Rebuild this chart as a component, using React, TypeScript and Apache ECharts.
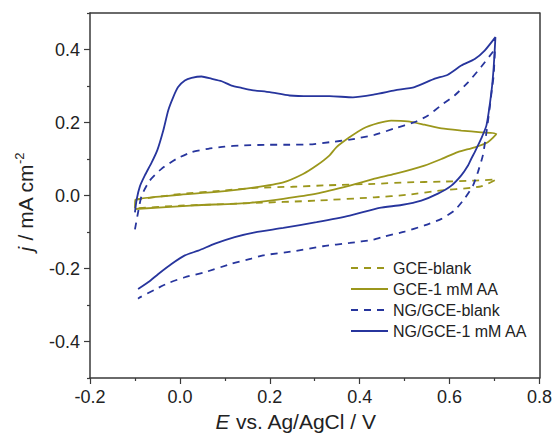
import React, { useEffect, useRef } from 'react';
import * as echarts from 'echarts';

const seriesNames = ['GCE-blank', 'GCE-1 mM AA', 'NG/GCE-blank', 'NG/GCE-1 mM AA'];
const yMajorTicks = [-0.4, -0.2, 0, 0.2, 0.4];
const yMinorTicks = [-0.5, -0.3, -0.1, 0.1, 0.3, 0.5];

// GCE-blank (dashed olive)
const gceBlankE = [-0.1, 0.0, 0.1, 0.167, 0.25, 0.33, 0.433, 0.507, 0.582, 0.656, 0.704,
  0.685, 0.67, 0.648, 0.582, 0.507, 0.433, 0.304, 0.156, 0.0, -0.1];
const gceBlankJ = [-0.012, 0.004, 0.014, 0.021, 0.024, 0.028, 0.032, 0.036, 0.038, 0.041, 0.044,
  0.032, 0.025, 0.021, 0.014, 0.002, -0.005, -0.014, -0.021, -0.028, -0.035];

// GCE-1 mM AA (solid olive)
const gceAaE = [-0.1, -0.099, 0.0, 0.1, 0.167, 0.23, 0.274, 0.304, 0.333, 0.348, 0.378, 0.407, 0.441,
  0.47, 0.507, 0.544, 0.582, 0.626, 0.67, 0.704,
  0.685, 0.656, 0.618, 0.582, 0.544, 0.478, 0.433, 0.378, 0.304, 0.23, 0.156, 0.033, -0.1];
const gceAaJ = [-0.035, -0.012, 0.002, 0.012, 0.022, 0.036, 0.059, 0.082, 0.11, 0.132, 0.16, 0.183, 0.198,
  0.205, 0.203, 0.194, 0.184, 0.178, 0.173, 0.169,
  0.146, 0.132, 0.119, 0.1, 0.082, 0.059, 0.046, 0.027, 0.005, -0.009, -0.02, -0.027, -0.037];

// NG/GCE-blank (dashed blue)
const ngBlankE = [-0.1, -0.093, -0.085, -0.067, -0.041, -0.008, 0.026, 0.063, 0.1, 0.137, 0.2, 0.244,
  0.289, 0.333, 0.378, 0.433, 0.478, 0.522, 0.552, 0.581, 0.611, 0.641, 0.67, 0.696, 0.701,
  0.698, 0.694, 0.689, 0.681, 0.674, 0.663, 0.652, 0.633, 0.611, 0.582, 0.544, 0.5, 0.456, 0.43,
  0.378, 0.318, 0.252, 0.185, 0.159, 0.115, 0.056, 0.011, -0.026, -0.056, -0.089, -0.093];
const ngBlankJ = [-0.093, -0.046, 0.0, 0.041, 0.073, 0.1, 0.119, 0.128, 0.134, 0.137, 0.139, 0.139,
  0.14, 0.146, 0.153, 0.166, 0.184, 0.201, 0.219, 0.247, 0.274, 0.31, 0.352, 0.393, 0.402,
  0.329, 0.29, 0.238, 0.164, 0.11, 0.064, 0.027, -0.009, -0.041, -0.064, -0.082, -0.099, -0.112, -0.121,
  -0.13, -0.139, -0.153, -0.164, -0.173, -0.187, -0.21, -0.224, -0.24, -0.258, -0.279, -0.283];

// NG/GCE-1 mM AA (solid blue)
const ngAaE = [-0.1, -0.096, -0.089, -0.078, -0.063, -0.05, -0.037, -0.026, -0.015, -0.004, 0.011, 0.026,
  0.048, 0.07, 0.093, 0.115, 0.137, 0.16, 0.2, 0.244, 0.289, 0.333, 0.385, 0.433, 0.478, 0.522,
  0.567, 0.596, 0.626, 0.656, 0.678, 0.702,
  0.698, 0.693, 0.682, 0.67, 0.656, 0.648, 0.641, 0.626, 0.604, 0.574, 0.537, 0.493, 0.444, 0.378,
  0.304, 0.23, 0.167, 0.122, 0.078, 0.041, 0.011, -0.018, -0.048, -0.07, -0.093];
const ngAaJ = [-0.046, -0.01, 0.025, 0.055, 0.09, 0.125, 0.178, 0.233, 0.269, 0.297, 0.315, 0.322,
  0.326, 0.32, 0.313, 0.301, 0.295, 0.289, 0.283, 0.274, 0.272, 0.272, 0.269, 0.277, 0.288, 0.297,
  0.32, 0.331, 0.356, 0.374, 0.397, 0.434,
  0.35, 0.283, 0.192, 0.155, 0.119, 0.1, 0.082, 0.055, 0.027, 0.005, -0.014, -0.026, -0.034, -0.055,
  -0.073, -0.089, -0.101, -0.114, -0.132, -0.151, -0.164, -0.187, -0.215, -0.237, -0.256];

const OLIVE = '#9b971c';
const BLUE = '#27359d';
const AXIS = '#3a3a3a';
const FONT = '"Liberation Sans", Arial, Helvetica, sans-serif';

const zip = (e: number[], j: number[]) => e.map((v, i) => [v, j[i]]);

export default function App() {
  const ref = useRef<HTMLDivElement>(null);
  useEffect(() => {
    if (!ref.current) return;
    const chart = echarts.init(ref.current, undefined, { renderer: 'svg' });
    const fmt = (v: number) => v.toFixed(1);
    const lineSeries = (name: string, data: number[][], color: string, dashed: boolean) => ({
      name,
      type: 'line',
      data,
      showSymbol: false,
      symbol: 'none',
      smooth: 0.2,
      clip: false,
      itemStyle: { color },
      lineStyle: { color, width: 1.8, type: dashed ? [7, 6] : 'solid' },
    });
    chart.setOption({
      animation: false,
      backgroundColor: '#ffffff',
      grid: { left: 90, right: 15, top: 13, bottom: 65 },
      xAxis: [
        {
          type: 'value', min: -0.2, max: 0.8, interval: 0.2, position: 'bottom',
          axisLine: { show: true, onZero: false, lineStyle: { color: AXIS, width: 1.5 } },
          axisTick: { show: true, inside: false, length: 6, lineStyle: { color: AXIS, width: 1.2 } },
          minorTick: { show: true, splitNumber: 2, length: 3, lineStyle: { color: AXIS, width: 1.2 } },
          axisLabel: { fontSize: 18, color: '#222', fontFamily: FONT, margin: 10, formatter: fmt },
          splitLine: { show: false }, minorSplitLine: { show: false },
        },
        {
          type: 'value', min: -0.2, max: 0.8, position: 'top',
          axisLine: { show: true, onZero: false, lineStyle: { color: AXIS, width: 1.5 } },
          axisTick: { show: false }, axisLabel: { show: false }, splitLine: { show: false },
        },
      ],
      yAxis: [
        {
          type: 'value', min: -0.5, max: 0.5, position: 'left',
          axisLine: { show: true, onZero: false, lineStyle: { color: AXIS, width: 1.5 } },
          axisTick: { show: true, inside: false, length: 6, customValues: yMajorTicks, lineStyle: { color: AXIS, width: 1.2 } },
          axisLabel: { fontSize: 18, color: '#222', fontFamily: FONT, margin: 10, customValues: yMajorTicks, formatter: fmt },
          splitLine: { show: false },
        },
        {
          type: 'value', min: -0.5, max: 0.5, position: 'left',
          axisLine: { show: false, onZero: false },
          axisTick: { show: true, inside: false, length: 3, customValues: yMinorTicks, lineStyle: { color: AXIS, width: 1.2 } },
          axisLabel: { show: false }, splitLine: { show: false },
        },
        {
          type: 'value', min: -0.5, max: 0.5, position: 'right',
          axisLine: { show: true, onZero: false, lineStyle: { color: AXIS, width: 1.5 } },
          axisTick: { show: false }, axisLabel: { show: false }, splitLine: { show: false },
        },
      ],
      legend: {
        orient: 'vertical', left: 345, top: 255, itemWidth: 37, itemHeight: 14, itemGap: 5,
        itemStyle: { opacity: 0 },
        textStyle: { fontSize: 16, color: '#222', fontFamily: FONT },
        data: seriesNames,
      },
      graphic: [
        {
          type: 'text', x: 296, y: 421,
          style: {
            text: '{i|E}{n| vs. Ag/AgCl / V}',
            align: 'center', verticalAlign: 'middle', fill: '#222',
            fontSize: 21, fontFamily: FONT,
            rich: {
              i: { fontSize: 21, fontFamily: FONT, fontStyle: 'italic', fill: '#222' },
              n: { fontSize: 21, fontFamily: FONT, fill: '#222' },
            },
          },
        },
        {
          type: 'text', x: 25, y: 202, rotation: Math.PI / 2,
          style: {
            text: '{i|j}{n| / mA cm}{s|-2}',
            align: 'center', verticalAlign: 'middle', fill: '#222',
            fontSize: 21, fontFamily: FONT,
            rich: {
              i: { fontSize: 21, fontFamily: FONT, fontStyle: 'italic', fill: '#222', lineHeight: 24 },
              n: { fontSize: 21, fontFamily: FONT, fill: '#222', lineHeight: 24 },
              s: { fontSize: 13, fontFamily: FONT, fill: '#222', verticalAlign: 'top', lineHeight: 14 },
            },
          },
        },
      ],
      series: [
        lineSeries(seriesNames[0], zip(gceBlankE, gceBlankJ), OLIVE, true),
        lineSeries(seriesNames[1], zip(gceAaE, gceAaJ), OLIVE, false),
        lineSeries(seriesNames[2], zip(ngBlankE, ngBlankJ), BLUE, true),
        lineSeries(seriesNames[3], zip(ngAaE, ngAaJ), BLUE, false),
      ],
    });
    return () => chart.dispose();
  }, []);
  return (
    <div
      ref={ref}
      style={{ position: 'absolute', left: 0, top: 0, width: 555, height: 443, background: '#fff' }}
    />
  );
}
